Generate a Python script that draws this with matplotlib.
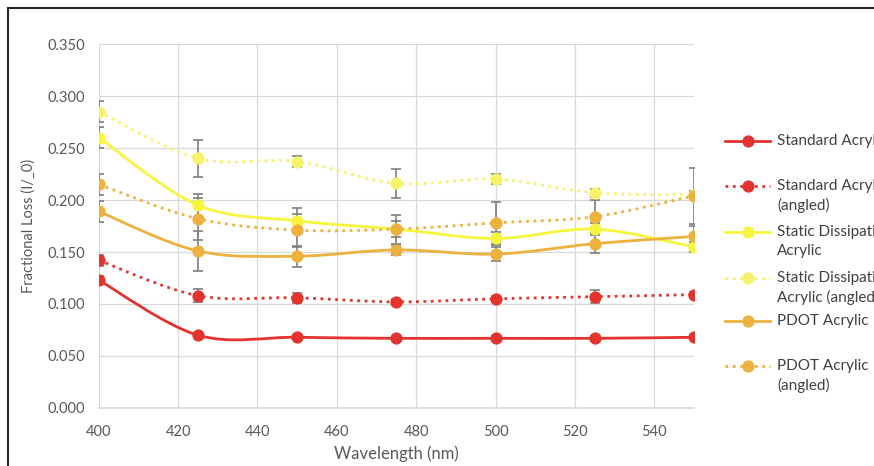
import matplotlib.pyplot as plt
import numpy as np
from matplotlib.path import Path
from matplotlib.patches import PathPatch, Rectangle
from matplotlib.lines import Line2D

plt.rcParams["font.family"] = ["Lato", "DejaVu Sans"]

wavelength = [400, 425, 450, 475, 500, 525, 550]

standard = [0.123, 0.070, 0.068, 0.067, 0.067, 0.067, 0.068]
standard_angled = [0.142, 0.108, 0.106, 0.102, 0.105, 0.107, 0.109]
static = [0.260, 0.195, 0.180, 0.172, 0.163, 0.172, 0.155]
static_angled = [0.285, 0.240, 0.237, 0.216, 0.220, 0.207, 0.205]
pdot = [0.189, 0.151, 0.146, 0.152, 0.148, 0.158, 0.165]
pdot_angled = [0.215, 0.182, 0.171, 0.172, 0.178, 0.184, 0.204]

standard_err = [0.004, 0.002, 0.002, 0.002, 0.002, 0.002, 0.002]
standard_angled_err = [0.005, 0.006, 0.005, 0.003, 0.003, 0.006, 0.003]
static_err = [0.010, 0.011, 0.012, 0.008, 0.006, 0.006, 0.005]
static_angled_err = [0.010, 0.018, 0.005, 0.014, 0.005, 0.004, 0.004]
pdot_err = [0.010, 0.019, 0.010, 0.005, 0.007, 0.009, 0.010]
pdot_angled_err = [0.010, 0.020, 0.016, 0.014, 0.020, 0.016, 0.027]

labels = [
    "Standard Acrylic",
    "Standard Acrylic\n(angled)",
    "Static Dissipative\nAcrylic",
    "Static Dissipative\nAcrylic (angled)",
    "PDOT Acrylic",
    "PDOT Acrylic\n(angled)",
]

series = [
    (standard, standard_err, "#e2342c", "-"),
    (standard_angled, standard_angled_err, "#e2342c", ":"),
    (static, static_err, "#f7f53e", "-"),
    (static_angled, static_angled_err, "#f6f36a", ":"),
    (pdot, pdot_err, "#edb23e", "-"),
    (pdot_angled, pdot_angled_err, "#edb23e", ":"),
]


def smooth_path(x, y):
    # Excel style smoothed line: cubic bezier through the points
    x = np.asarray(x, float)
    y = np.asarray(y, float)
    n = len(x)
    verts = [(x[0], y[0])]
    codes = [Path.MOVETO]
    for i in range(n - 1):
        p0 = np.array([x[max(i - 1, 0)], y[max(i - 1, 0)]])
        p1 = np.array([x[i], y[i]])
        p2 = np.array([x[i + 1], y[i + 1]])
        p3 = np.array([x[min(i + 2, n - 1)], y[min(i + 2, n - 1)]])
        c1 = p1 + (p2 - p0) / 6
        c2 = p2 - (p3 - p1) / 6
        verts += [tuple(c1), tuple(c2), tuple(p2)]
        codes += [Path.CURVE4] * 3
    return Path(verts, codes)


fig = plt.figure(figsize=(8.74, 4.66), dpi=100)
ax = fig.add_axes([0.113, 0.1245, 0.681, 0.781])

for values, err, color, style in series:
    ax.add_patch(PathPatch(
        smooth_path(wavelength, values),
        facecolor="none",
        edgecolor=color,
        linewidth=2.0,
        linestyle=style,
        zorder=3
    ))
    ax.errorbar(
        wavelength,
        values,
        yerr=err,
        fmt="none",
        ecolor="#7f7f7f",
        elinewidth=1.2,
        capsize=3.5,
        capthick=1.2,
        zorder=4
    )
    ax.plot(
        wavelength,
        values,
        linestyle="none",
        marker="o",
        markersize=7.8,
        color=color,
        zorder=5
    )

ax.set_xlim(400, 550)
ax.set_ylim(0, 0.35)
ax.set_xticks(range(400, 541, 20))
ax.set_yticks(np.arange(0, 0.351, 0.05))
ax.set_yticklabels([f"{v:.3f}" for v in np.arange(0, 0.351, 0.05)])
ax.grid(True, color="#d9d9d9", linewidth=0.9)
ax.set_axisbelow(True)
for side in ["top", "right", "left"]:
    ax.spines[side].set_visible(False)
ax.spines["bottom"].set_color("#d9d9d9")
ax.spines["bottom"].set_linewidth(1.2)
ax.tick_params(length=0, labelsize=10.5, colors="#595959")
ax.tick_params(axis="x", pad=12)
ax.tick_params(axis="y", pad=10)

ax.set_xlabel("Wavelength (nm)", fontsize=12, color="#595959", labelpad=5)
ax.set_ylabel("Fractional Loss (I/_0)", fontsize=10.5, color="#595959", labelpad=8)

# legend drawn by hand to follow the uneven Excel spacing
legend_y = [141, 186, 232, 278, 321, 366]
for (values, err, color, style), label, py in zip(series, labels, legend_y):
    fy = 1 - py / 466
    fig.add_artist(Line2D(
        [725 / 874, 770 / 874], [fy, fy],
        transform=fig.transFigure,
        color=color, linestyle=style, linewidth=2.0
    ))
    fig.add_artist(Line2D(
        [747.5 / 874], [fy],
        transform=fig.transFigure,
        color=color, marker="o", markersize=7.8, linestyle="none"
    ))
    for i, line in enumerate(label.split("\n")):
        fig.text(
            777 / 874, 1 - (py + i * 19) / 466, line,
            fontsize=11, color="#404040",
            va="center", ha="left"
        )

# frame of the chart area
fig.add_artist(Rectangle(
    (8 / 874, -0.05), 1.2, 1 - 8 / 466 + 0.05,
    transform=fig.transFigure,
    facecolor="none", edgecolor="#262626", linewidth=1.5
))

fig.savefig("out.png", dpi=100)
